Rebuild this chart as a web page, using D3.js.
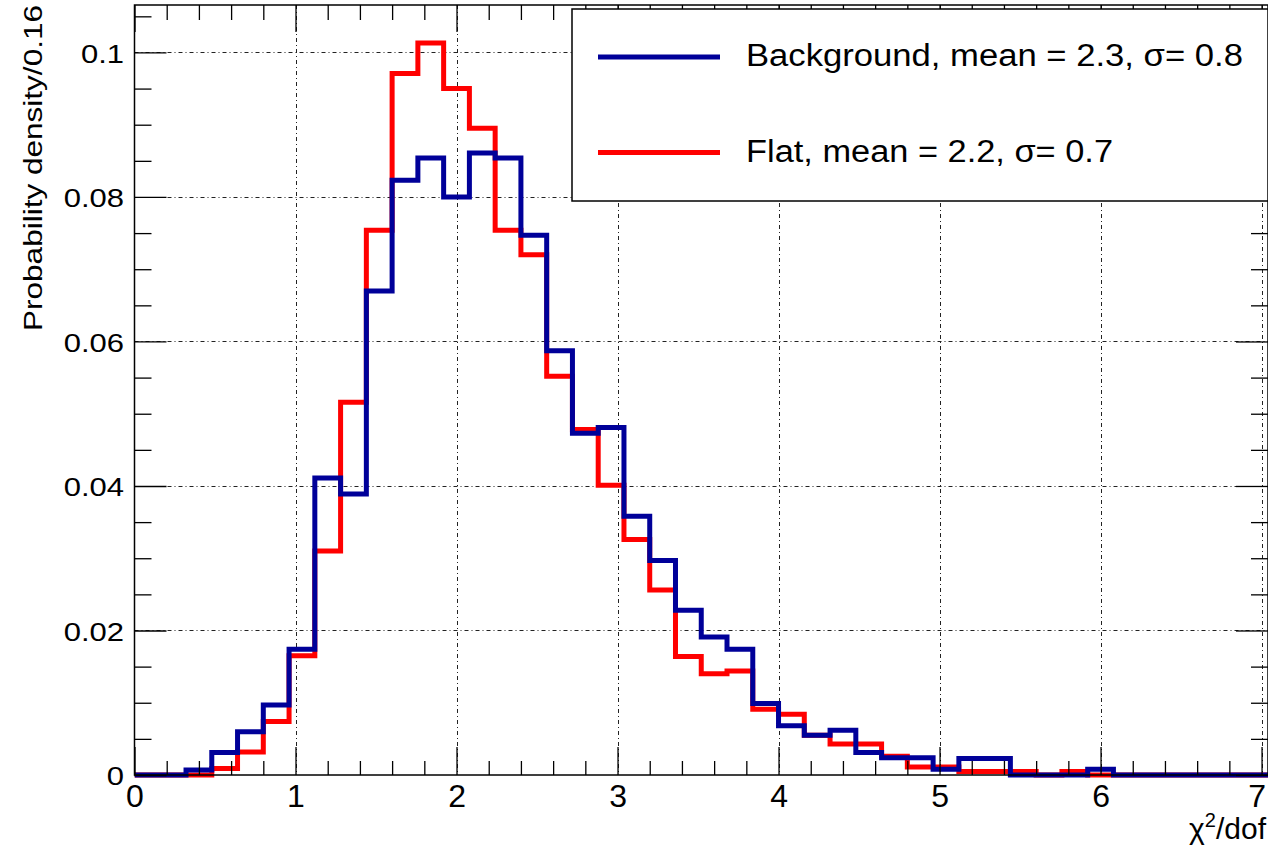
<!DOCTYPE html>
<html>
<head>
<meta charset="utf-8">
<script src="https://cdn.jsdelivr.net/npm/d3@7"></script>
<style>
  html, body { margin: 0; padding: 0; background: #fff; }
  svg { display: block; }
  text { font-family: "Liberation Sans", Arial, Helvetica, sans-serif; fill: #000; }
</style>
</head>
<body>
<svg id="chart" width="1268" height="848"></svg>
<script>
// Histogram binning: 44 bins of width 0.16 starting at 0
const binWidth = 0.16;
const nBins = 44;

// Probability density per bin, background sample
const background = [
  0, 0, 0.0007, 0.0031, 0.0060, 0.0097, 0.0174, 0.0411, 0.0389, 0.0670,
  0.0823, 0.0854, 0.0800, 0.0861, 0.0854, 0.0747, 0.0587, 0.0473, 0.0481, 0.0358,
  0.0297, 0.0228, 0.0191, 0.0174, 0.0099, 0.0068, 0.0055, 0.0062, 0.0031, 0.0024,
  0.0024, 0.0008, 0.0023, 0.0023, 0, 0, 0, 0.0008, 0, 0,
  0, 0, 0, 0
];

// Probability density per bin, flat sample
const flat = [
  0, 0, 0, 0.0009, 0.0032, 0.0074, 0.0165, 0.0310, 0.0516, 0.0754,
  0.0971, 0.1013, 0.0950, 0.0895, 0.0754, 0.0720, 0.0552, 0.0478, 0.0401, 0.0326,
  0.0256, 0.0164, 0.0140, 0.0144, 0.0091, 0.0084, 0.0055, 0.0043, 0.0043, 0.0026,
  0.0011, 0.0011, 0.0005, 0.0005, 0.0005, 0, 0.0005, 0, 0, 0,
  0, 0, 0, 0
];

const seriesNames = ["Background, mean = 2.3, \u03C3= 0.8", "Flat, mean = 2.2, \u03C3= 0.7"];
const seriesColors = ["#000099", "#ff0000"];

const xTicks = [0, 1, 2, 3, 4, 5, 6, 7];
const xTickLabels = ["0", "1", "2", "3", "4", "5", "6", "7"];
const yTicks = [0, 0.02, 0.04, 0.06, 0.08, 0.1];
const yTickLabels = ["0", "0.02", "0.04", "0.06", "0.08", "0.1"];

const xTitle = "/dof";
const yTitle = "Probability density/0.16";

// ---- frame geometry ----
const plotL = 134.5, plotR = 1268, plotT = 5, plotB = 775;
const xMax = nBins * binWidth;
const yMax = d3.max(flat.concat(background)) * 1.052;

const x = d3.scaleLinear().domain([0, xMax]).range([plotL, plotR]);
const y = d3.scaleLinear().domain([0, yMax]).range([plotB, plotT]);

const svg = d3.select("#chart");

svg.append("defs").append("clipPath").attr("id", "plotClip")
  .append("rect").attr("x", plotL).attr("y", 0).attr("width", plotR - plotL).attr("height", plotB + 10);

// ---- grid ----
const grid = svg.append("g").attr("stroke", "#222").attr("stroke-width", 1)
  .attr("stroke-dasharray", "4,3,1,3").attr("fill", "none");
grid.selectAll("line.vx").data(xTicks.filter(d => d > 0)).join("line")
  .attr("x1", d => Math.round(x(d)) + 0.5).attr("x2", d => Math.round(x(d)) + 0.5)
  .attr("y1", plotT).attr("y2", plotB);
grid.selectAll("line.hy").data(yTicks.filter(d => d > 0)).join("line")
  .attr("x1", plotL).attr("x2", plotR)
  .attr("y1", d => Math.round(y(d)) + 0.5).attr("y2", d => Math.round(y(d)) + 0.5);

// ---- histograms (flat underneath, background on top) ----
const stepLine = d3.line()
  .x(d => x(d[0]))
  .y(d => y(d[1]))
  .curve(d3.curveStepAfter);

function stepPoints(values) {
  const pts = [[0, 0]];
  values.forEach((v, i) => pts.push([i * binWidth, v]));
  pts.push([values.length * binWidth, values[values.length - 1]]);
  return pts;
}

const hist = svg.append("g").attr("clip-path", "url(#plotClip)");
[[flat, seriesColors[1]], [background, seriesColors[0]]].forEach(([vals, col]) => {
  hist.append("path")
    .attr("d", stepLine(stepPoints(vals)))
    .attr("fill", "none")
    .attr("stroke", col)
    .attr("stroke-width", 5)
    .attr("stroke-linejoin", "miter")
    .attr("stroke-linecap", "butt");
});

// ---- axes ----
const xMinor = d3.range(0, 35).map(i => i * 0.2).filter(v => Math.abs(v - Math.round(v)) > 1e-6);
const yMinor = d3.range(0, 22).map(i => i * 0.005).filter(v => Math.abs(v / 0.02 - Math.round(v / 0.02)) > 1e-6);

function styleAxis(g) {
  g.select(".domain").remove();
  g.selectAll(".tick line").attr("stroke", "#000").attr("stroke-width", 1.3);
}

// bottom: labelled majors, ticks pointing inward
const xAxis = svg.append("g").attr("transform", `translate(0,${plotB})`)
  .call(d3.axisBottom(x).tickValues(xTicks).tickFormat((d, i) => xTickLabels[i])
    .tickSize(-28).tickPadding(9))
  .call(styleAxis);
xAxis.selectAll("text").attr("font-size", 32).attr("fill", "#000")
  .attr("font-family", "Liberation Sans, Arial, sans-serif");
// keep the last label inside the page edge
xAxis.selectAll("text").filter(d => d === 7).attr("x", -5);
svg.append("g").attr("transform", `translate(0,${plotB})`)
  .call(d3.axisBottom(x).tickValues(xMinor).tickFormat("").tickSize(-14))
  .call(styleAxis);

// top: unlabelled
svg.append("g").attr("transform", `translate(0,${plotT})`)
  .call(d3.axisTop(x).tickValues(xTicks).tickFormat("").tickSize(-27))
  .call(styleAxis);
svg.append("g").attr("transform", `translate(0,${plotT})`)
  .call(d3.axisTop(x).tickValues(xMinor).tickFormat("").tickSize(-15))
  .call(styleAxis);

// left: labelled majors
const yAxis = svg.append("g").attr("transform", `translate(${plotL},0)`)
  .call(d3.axisLeft(y).tickValues(yTicks).tickFormat((d, i) => yTickLabels[i])
    .tickSize(-32).tickPadding(9))
  .call(styleAxis);
yAxis.selectAll("text").attr("font-size", 26.5).attr("fill", "#000")
  .attr("font-family", "Liberation Sans, Arial, sans-serif")
  .attr("dy", "0.36em")
  .attr("transform", "scale(1.17,1)");
svg.append("g").attr("transform", `translate(${plotL},0)`)
  .call(d3.axisLeft(y).tickValues(yMinor).tickFormat("").tickSize(-17))
  .call(styleAxis);

// right: unlabelled
svg.append("g").attr("transform", `translate(${plotR},0)`)
  .call(d3.axisRight(y).tickValues(yTicks).tickFormat("").tickSize(-32))
  .call(styleAxis);
svg.append("g").attr("transform", `translate(${plotR},0)`)
  .call(d3.axisRight(y).tickValues(yMinor).tickFormat("").tickSize(-17))
  .call(styleAxis);

// frame
svg.append("rect")
  .attr("x", plotL).attr("y", plotT)
  .attr("width", plotR - plotL).attr("height", plotB - plotT)
  .attr("fill", "none").attr("stroke", "#000").attr("stroke-width", 1.5);

// ---- axis titles ----
const xt = svg.append("text")
  .attr("x", 1266).attr("y", 839)
  .attr("text-anchor", "end")
  .attr("font-size", 30);
xt.append("tspan").text("\u03C7");
xt.append("tspan").attr("font-size", 20).attr("dy", -12).text("2");
xt.append("tspan").attr("dy", 12).text(xTitle);

svg.append("text")
  .attr("transform", `translate(42,${plotT}) rotate(-90)`)
  .attr("text-anchor", "end")
  .attr("font-size", 26.5)
  .attr("textLength", 326)
  .attr("lengthAdjust", "spacingAndGlyphs")
  .text(yTitle);

// ---- legend ----
const lg = svg.append("g");
lg.append("rect")
  .attr("x", 572).attr("y", 9)
  .attr("width", plotR - 572).attr("height", 192)
  .attr("fill", "#fff").attr("stroke", "#000").attr("stroke-width", 1.5);

const legendRows = [
  { name: seriesNames[0], color: seriesColors[0], ly: 57, width: 497 },
  { name: seriesNames[1], color: seriesColors[1], ly: 152.5, width: 367 }
];
legendRows.forEach(r => {
  lg.append("line")
    .attr("x1", 598).attr("x2", 720)
    .attr("y1", r.ly).attr("y2", r.ly)
    .attr("stroke", r.color).attr("stroke-width", 5);
  lg.append("text")
    .attr("x", 746).attr("y", r.ly + 9)
    .attr("font-size", 31)
    .attr("textLength", r.width)
    .attr("lengthAdjust", "spacingAndGlyphs")
    .text(r.name);
});
</script>
</body>
</html>
